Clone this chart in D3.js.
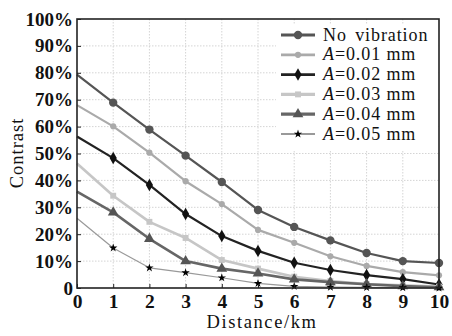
<!DOCTYPE html>
<html><head><meta charset="utf-8">
<script src="https://cdn.jsdelivr.net/npm/d3@7"></script>
<style>body{margin:0;background:#fff}svg{display:block}text{font-family:"Liberation Serif","Times New Roman",serif;fill:#111}</style>
</head><body><svg id="c" width="452" height="336"></svg>
<script>
const distances = [0,1,2,3,4,5,6,7,8,9,10];
const seriesNames = ["No vibration","A=0.01 mm","A=0.02 mm","A=0.03 mm","A=0.04 mm","A=0.05 mm"];
const noVibration = [79.3,68.9,58.9,49.2,39.4,29.0,22.7,17.7,13.0,10.0,9.3];
const a001 = [68.0,60.1,50.3,39.7,31.2,21.6,16.8,11.8,8.2,5.9,4.7];
const a002 = [56.3,48.3,38.3,27.5,19.3,13.8,9.4,6.7,4.8,3.3,1.3];
const a003 = [46.3,34.3,24.6,18.6,10.4,7.2,4.2,2.6,1.5,1.0,0.5];
const a004 = [35.8,28.1,18.3,10.0,7.2,5.4,3.2,2.2,1.4,0.7,0.3];
const a005 = [25.9,14.9,7.5,5.7,3.8,1.7,0.6,0.3,0.2,0.1,0.0];
const yTicks = [0,10,20,30,40,50,60,70,80,90,100];

const values = [noVibration,a001,a002,a003,a004,a005];
const styles = [
  {color:"#555",width:2.2,sym:d3.symbolCircle,size:55,mcolor:"#555"},
  {color:"#aaa",width:2.2,sym:d3.symbolCircle,size:30,mcolor:"#aaa"},
  {color:"#222",width:2.2,sym:d3.symbolDiamond,size:45,mcolor:"#111"},
  {color:"#c6c6c6",width:2.6,sym:d3.symbolSquare,size:35,mcolor:"#c6c6c6"},
  {color:"#666",width:2.6,sym:d3.symbolTriangle,size:50,mcolor:"#555"},
  {color:"#999",width:1.2,sym:d3.symbolStar,size:22,mcolor:"#000"}
];

const svg = d3.select("#c");
const L=77,R=439,T=19,B=288;
const x = d3.scaleLinear().domain([0,10]).range([L,R]);
const y = d3.scaleLinear().domain([0,100]).range([B,T]);

// grid
const g = svg.append("g");
g.selectAll("line.vx").data(distances.slice(1,-1)).join("line")
  .attr("x1",d=>x(d)).attr("x2",d=>x(d)).attr("y1",T).attr("y2",B)
  .attr("stroke","#d4d4d4").attr("stroke-width",1).attr("stroke-dasharray","1.5,1.5");
g.selectAll("line.hy").data(yTicks.slice(1,-1)).join("line")
  .attr("x1",L).attr("x2",R).attr("y1",d=>y(d)).attr("y2",d=>y(d))
  .attr("stroke","#d4d4d4").attr("stroke-width",1).attr("stroke-dasharray","1.5,1.5");

// legend background (hides grid)
const legX=276, legY=24;
svg.append("rect").attr("x",legX).attr("y",legY).attr("width",R-legX-1).attr("height",126).attr("fill","#fff");

// lines
const line = d3.line().x((d,i)=>x(distances[i])).y(d=>y(d));
values.forEach((vals,si)=>{
  const s=styles[si];
  svg.append("path").datum(vals).attr("d",line).attr("fill","none")
    .attr("stroke",s.color).attr("stroke-width",s.width).attr("stroke-linejoin","round");
  svg.append("g").selectAll("path").data(vals.slice(1)).join("path")
    .attr("transform",(d,i)=>`translate(${x(distances[i+1])},${y(d)})`)
    .attr("d",d3.symbol().type(s.sym).size(s.size)).attr("fill",s.mcolor);
});

// frame
svg.append("rect").attr("x",L).attr("y",T).attr("width",R-L).attr("height",B-T)
  .attr("fill","none").attr("stroke","#222").attr("stroke-width",1.6);

// axes
const xa = svg.append("g").attr("transform",`translate(0,${B})`)
  .call(d3.axisBottom(x).tickValues(distances).tickFormat(d3.format("d")).tickSize(-4).tickPadding(6));
xa.select(".domain").remove();
xa.selectAll("line").attr("stroke","#222");
xa.selectAll("text").attr("font-size",19.5).attr("fill","#111").attr("font-weight","bold").style("font-family","Liberation Serif");

const ya = svg.append("g").attr("transform",`translate(${L},0)`)
  .call(d3.axisLeft(y).tickValues(yTicks).tickFormat(d=>d===0?"0":d+"%").tickSize(-4).tickPadding(4));
ya.select(".domain").remove();
ya.selectAll("line").attr("stroke","#222");
ya.selectAll("text").attr("font-size",19).attr("fill","#111").attr("font-weight","bold").style("font-family","Liberation Serif");

// axis titles
svg.append("text").attr("x",(L+R)/2+4).attr("y",328).attr("text-anchor","middle")
  .attr("font-size",18.5).attr("letter-spacing",1.6).text("Distance/km");
svg.append("text").attr("transform","translate(23,153) rotate(-90)").attr("text-anchor","middle")
  .attr("font-size",18.5).attr("letter-spacing",1).text("Contrast");

// legend
const leg = svg.append("g");
seriesNames.forEach((name,i)=>{
  const s=styles[i]; const yy=35+i*19.8;
  leg.append("line").attr("x1",281).attr("x2",315).attr("y1",yy).attr("y2",yy)
    .attr("stroke",s.color).attr("stroke-width",s.width+0.6);
  leg.append("path").attr("transform",`translate(298,${yy})`)
    .attr("d",d3.symbol().type(s.sym).size(s.size)).attr("fill",s.mcolor);
  const t = leg.append("text").attr("x",323).attr("y",yy+5.5).attr("font-size",18).attr("letter-spacing",0.9);
  if(name.startsWith("A=")){
    t.append("tspan").attr("font-style","italic").text("A");
    t.append("tspan").text(name.slice(1));
  } else {
    t.attr("word-spacing",3).text(name);
  }
});
</script></body></html>
